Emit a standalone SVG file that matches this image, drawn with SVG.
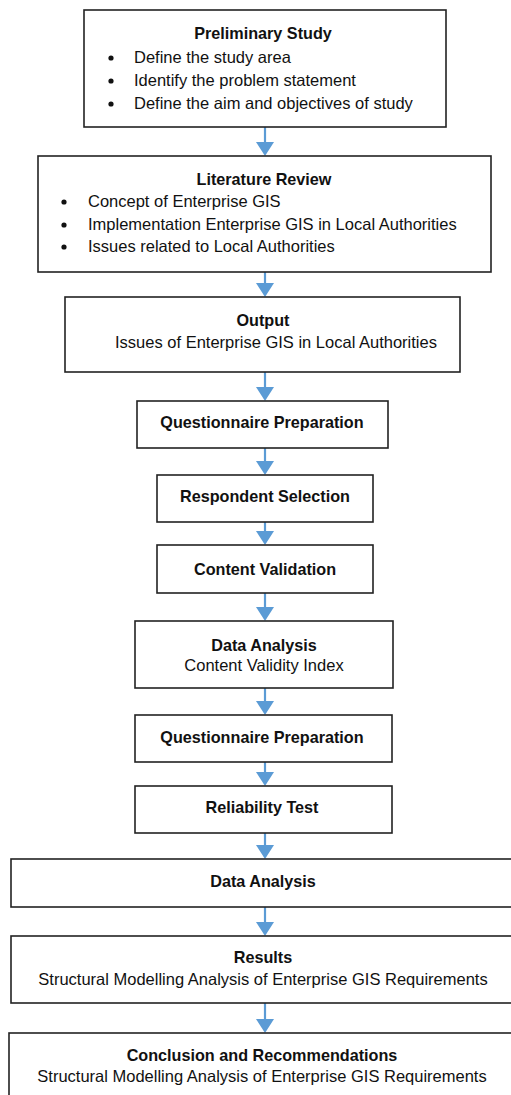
<svg xmlns="http://www.w3.org/2000/svg" width="511" height="1095" viewBox="0 0 511 1095">
<style>
.box{fill:#fff;stroke:#222;stroke-width:1.6}
.t{font-family:"Liberation Sans",Arial,sans-serif;font-size:16.5px;fill:#111}
.b{font-weight:bold;text-anchor:middle;font-size:16.2px}
.c{text-anchor:middle}
.sh{stroke:#5b9bd5;stroke-width:2.2;fill:none}
.hd{fill:#5b9bd5}
.dot{fill:#111}
</style>
<rect width="511" height="1095" fill="#fff"/>
<g id="connectors">
<line class="sh" x1="265" y1="127" x2="265" y2="143"/><polygon class="hd" points="256,142 274,142 265,156"/>
<line class="sh" x1="265" y1="272" x2="265" y2="284"/><polygon class="hd" points="256,283 274,283 265,297"/>
<line class="sh" x1="265" y1="372" x2="265" y2="388"/><polygon class="hd" points="256,387 274,387 265,401"/>
<line class="sh" x1="265" y1="448" x2="265" y2="462"/><polygon class="hd" points="256,461 274,461 265,475"/>
<line class="sh" x1="265" y1="522" x2="265" y2="532"/><polygon class="hd" points="256,531 274,531 265,545"/>
<line class="sh" x1="265" y1="593" x2="265" y2="608"/><polygon class="hd" points="256,607 274,607 265,621"/>
<line class="sh" x1="265" y1="688" x2="265" y2="702"/><polygon class="hd" points="256,701 274,701 265,715"/>
<line class="sh" x1="265" y1="762" x2="265" y2="773"/><polygon class="hd" points="256,772 274,772 265,786"/>
<line class="sh" x1="265" y1="833" x2="265" y2="846"/><polygon class="hd" points="256,845 274,845 265,859"/>
<line class="sh" x1="265" y1="907" x2="265" y2="923"/><polygon class="hd" points="256,922 274,922 265,936"/>
<line class="sh" x1="265" y1="1003" x2="265" y2="1020"/><polygon class="hd" points="256,1019 274,1019 265,1033"/>
</g>
<g id="preliminary">
<rect class="box" x="84" y="10" width="362" height="117"/>
<text class="t b" x="263" y="39">Preliminary Study</text>
<circle class="dot" cx="111" cy="58" r="2.6"/><text class="t" x="134" y="63">Define the study area</text>
<circle class="dot" cx="111" cy="81" r="2.6"/><text class="t" x="134" y="86">Identify the problem statement</text>
<circle class="dot" cx="111" cy="104" r="2.6"/><text class="t" x="134" y="109">Define the aim and objectives of study</text>
</g>
<g id="literature">
<rect class="box" x="38" y="156" width="453" height="116"/>
<text class="t b" x="264" y="185">Literature Review</text>
<circle class="dot" cx="64" cy="202" r="2.6"/><text class="t" x="88" y="207">Concept of Enterprise GIS</text>
<circle class="dot" cx="64" cy="225" r="2.6"/><text class="t" x="88" y="230">Implementation Enterprise GIS in Local Authorities</text>
<circle class="dot" cx="64" cy="247" r="2.6"/><text class="t" x="88" y="252">Issues related to Local Authorities</text>
</g>
<g id="output">
<rect class="box" x="65" y="297" width="395" height="75"/>
<text class="t b" x="263" y="326">Output</text>
<text class="t c" x="276" y="348">Issues of Enterprise GIS in Local Authorities</text>
</g>
<g id="questionnaire1">
<rect class="box" x="137" y="401" width="251" height="47"/>
<text class="t b" x="262" y="428">Questionnaire Preparation</text>
</g>
<g id="respondent">
<rect class="box" x="157" y="475" width="216" height="47"/>
<text class="t b" x="265" y="502">Respondent Selection</text>
</g>
<g id="content-validation">
<rect class="box" x="157" y="545" width="216" height="48"/>
<text class="t b" x="265" y="575">Content Validation</text>
</g>
<g id="data-analysis1">
<rect class="box" x="135" y="621" width="258" height="67"/>
<text class="t b" x="264" y="651">Data Analysis</text>
<text class="t c" x="264" y="671">Content Validity Index</text>
</g>
<g id="questionnaire2">
<rect class="box" x="135" y="715" width="257" height="47"/>
<text class="t b" x="262" y="743">Questionnaire Preparation</text>
</g>
<g id="reliability">
<rect class="box" x="135" y="786" width="257" height="47"/>
<text class="t b" x="262" y="813">Reliability Test</text>
</g>
<g id="data-analysis2">
<rect class="box" x="11" y="859" width="520" height="48"/>
<text class="t b" x="263" y="887">Data Analysis</text>
</g>
<g id="results">
<rect class="box" x="11" y="936" width="520" height="67"/>
<text class="t b" x="263" y="963">Results</text>
<text class="t c" x="263" y="985">Structural Modelling Analysis of Enterprise GIS Requirements</text>
</g>
<g id="conclusion">
<rect class="box" x="9" y="1033" width="522" height="80"/>
<text class="t b" x="262" y="1061">Conclusion and Recommendations</text>
<text class="t c" x="262" y="1082">Structural Modelling Analysis of Enterprise GIS Requirements</text>
</g>
</svg>
